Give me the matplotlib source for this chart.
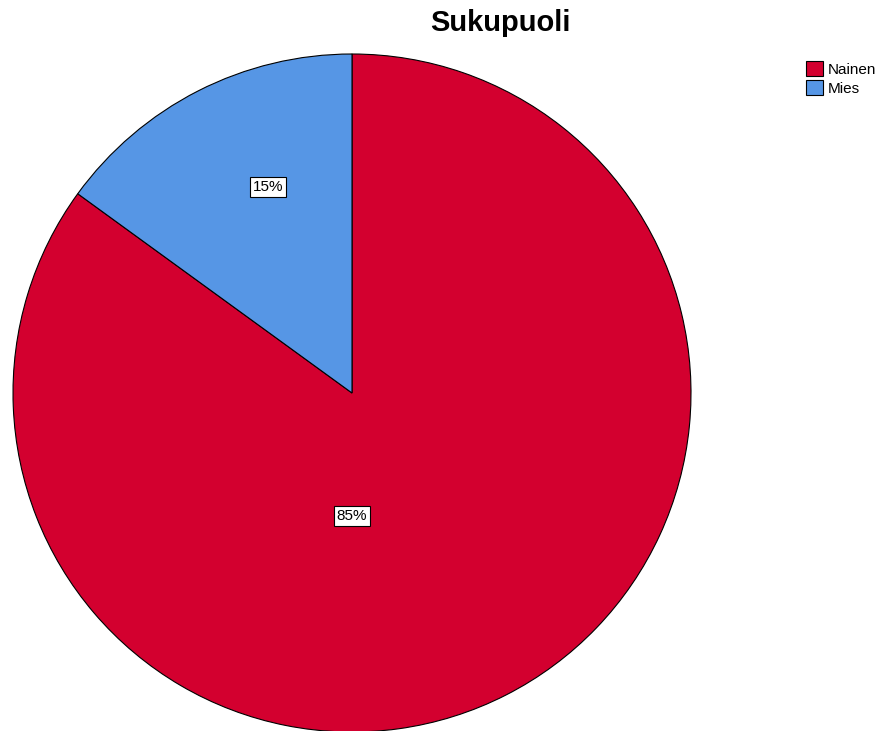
import matplotlib.pyplot as plt

labels = ['Nainen', 'Mies']
values = [85, 15]
colors = ['#D3002F', '#5696E5']

plt.rcParams['font.family'] = ['Liberation Sans', 'DejaVu Sans']

fig = plt.figure(figsize=(8.91, 7.31), dpi=100)
W, H = 891, 731
# pie occupies a square box in pixel coords
ax = fig.add_axes([13 / W, (H - 732) / H, 678 / W, 678 / H])
wedges, _ = ax.pie(values, colors=colors, startangle=90, counterclock=False,
                   radius=1, wedgeprops={'edgecolor': 'black', 'linewidth': 0.8})
ax.set_xlim(-1, 1)
ax.set_ylim(-1, 1)
ax.set_aspect('equal')
ax.axis('off')

# percent labels (placed like SPSS does)
label_pos = [(0.0, -0.363), (-0.248, 0.608)]
for (x, y), v in zip(label_pos, values):
    ax.text(x, y, '%d%%' % v, ha='center', va='center', fontsize=11,
            bbox={'boxstyle': 'square,pad=0.2', 'facecolor': 'white',
                  'edgecolor': 'black', 'linewidth': 0.8})

fig.text(500 / W, 1 - 23 / H, 'Sukupuoli', ha='center', va='center',
         fontsize=21, fontweight='bold')

fig.legend(wedges, labels, loc='upper left', bbox_to_anchor=(795 / W, 1 - 50 / H),
           frameon=False, fontsize=11, handlelength=1.1, handleheight=1.2,
           handletextpad=0.35, labelspacing=0.2, borderpad=0.2)

fig.savefig('out.png', dpi=100)
